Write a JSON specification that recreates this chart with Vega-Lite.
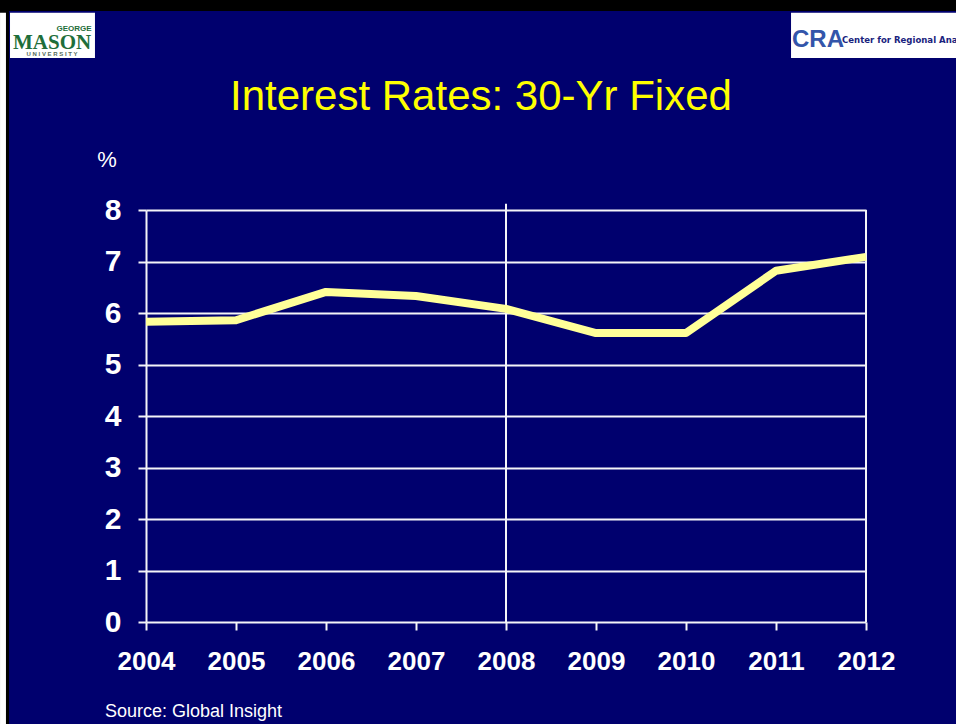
{
  "$schema": "https://vega.github.io/schema/vega-lite/v6.json",
  "width": 720,
  "height": 412,
  "autosize": {"type": "none"},
  "padding": {"left": 146, "top": 210, "right": 90, "bottom": 102},
  "background": "#00006e",
  "config": {"view": {"stroke": null}, "font": "Liberation Sans"},
  "data": {"values": [
    {"year": 2004, "rate": 5.83},
    {"year": 2005, "rate": 5.86},
    {"year": 2006, "rate": 6.41},
    {"year": 2007, "rate": 6.33},
    {"year": 2008, "rate": 6.08},
    {"year": 2009, "rate": 5.61},
    {"year": 2010, "rate": 5.61},
    {"year": 2011, "rate": 6.82},
    {"year": 2012, "rate": 7.09}
  ]},
  "layer": [
    {
      "data": {"values": [{}]},
      "mark": {"type": "rule", "color": "#f4f4f8", "strokeWidth": 2},
      "encoding": {
        "x": {"datum": 2008, "type": "quantitative", "scale": {"domain": [2004, 2012], "nice": false, "zero": false}},
        "y": {"datum": 0, "type": "quantitative"},
        "y2": {"datum": 8.12}
      }
    },
    {
      "data": {"values": [{}]},
      "mark": {"type": "rule", "color": "#f4f4f8", "strokeWidth": 2},
      "encoding": {
        "x": {"datum": 2012, "type": "quantitative"},
        "y": {"datum": 0, "type": "quantitative"},
        "y2": {"datum": 8}
      }
    },
    {
      "mark": {"type": "line", "color": "#ffff99", "strokeWidth": 8, "strokeJoin": "round"},
      "encoding": {
        "x": {
          "field": "year", "type": "quantitative",
          "scale": {"domain": [2004, 2012], "nice": false, "zero": false},
          "axis": {
            "values": [2004, 2005, 2006, 2007, 2008, 2009, 2010, 2011, 2012],
            "format": "d", "title": null, "grid": false, "domain": false,
            "labelFlush": false, "labelOverlap": false,
            "ticks": true, "tickSize": 8, "tickWidth": 2, "tickColor": "#f4f4f8",
            "labelColor": "#ffffff", "labelFont": "Liberation Sans", "labelFontWeight": "bold",
            "labelFontSize": 26, "labelPadding": 18
          }
        },
        "y": {
          "field": "rate", "type": "quantitative",
          "scale": {"domain": [0, 8], "nice": false},
          "axis": {
            "values": [0, 1, 2, 3, 4, 5, 6, 7, 8],
            "title": null, "grid": true, "gridColor": "#f4f4f8", "gridWidth": 2, "gridOpacity": 1,
            "domain": true, "domainColor": "#f4f4f8", "domainWidth": 2,
            "labelFlush": false, "labelOverlap": false,
            "ticks": true, "tickSize": 8, "tickWidth": 2, "tickColor": "#f4f4f8",
            "labelColor": "#ffffff", "labelFont": "Liberation Sans", "labelFontWeight": "bold",
            "labelFontSize": 30, "labelPadding": 17
          }
        }
      }
    },
    {
      "data": {"values": [{}]},
      "mark": {"type": "text", "text": "Interest Rates: 30-Yr Fixed", "color": "#ffff00", "fontSize": 42, "font": "Liberation Sans", "align": "center", "baseline": "alphabetic"},
      "encoding": {"x": {"datum": 2007.722, "type": "quantitative"}, "y": {"datum": 9.942, "type": "quantitative"}}
    },
    {
      "data": {"values": [{}]},
      "mark": {"type": "text", "text": "%", "color": "#ffffff", "fontSize": 22, "font": "Liberation Sans", "align": "center", "baseline": "alphabetic"},
      "encoding": {"x": {"datum": 2003.567, "type": "quantitative"}, "y": {"datum": 8.835, "type": "quantitative"}}
    },
    {
      "data": {"values": [{}]},
      "mark": {"type": "text", "text": "Source: Global Insight", "color": "#ffffff", "fontSize": 18, "font": "Liberation Sans", "align": "left", "baseline": "alphabetic"},
      "encoding": {"x": {"datum": 2003.544, "type": "quantitative"}, "y": {"datum": -1.845, "type": "quantitative"}}
    },
    {
      "data": {"values": [{}]},
      "mark": {"type": "rect", "color": "#000000"},
      "encoding": {"x": {"datum": 2002.378, "type": "quantitative"}, "x2": {"datum": 2013.1}, "y": {"datum": 11.864, "type": "quantitative"}, "y2": {"datum": 12.1}}
    },
    {
      "data": {"values": [{}]},
      "mark": {"type": "rect", "color": "#000000"},
      "encoding": {"x": {"datum": 2002.378, "type": "quantitative"}, "x2": {"datum": 2002.478}, "y": {"datum": -2.0, "type": "quantitative"}, "y2": {"datum": 12.1}}
    },
    {
      "data": {"values": [{}]},
      "mark": {"type": "rect", "color": "#ffffff"},
      "encoding": {"x": {"datum": 2002.378, "type": "quantitative"}, "x2": {"datum": 2002.444}, "y": {"datum": -2.0, "type": "quantitative"}, "y2": {"datum": 11.83}}
    },
    {
      "data": {"values": [{}]},
      "mark": {"type": "rect", "color": "#ffffff"},
      "encoding": {"x": {"datum": 2002.489, "type": "quantitative"}, "x2": {"datum": 2003.433}, "y": {"datum": 10.951, "type": "quantitative"}, "y2": {"datum": 11.83}}
    },
    {
      "data": {"values": [{}]},
      "mark": {"type": "rect", "color": "#ffffff"},
      "encoding": {"x": {"datum": 2011.167, "type": "quantitative"}, "x2": {"datum": 2013.1}, "y": {"datum": 10.951, "type": "quantitative"}, "y2": {"datum": 11.83}}
    },
    {
      "data": {"values": [{}]},
      "mark": {"type": "text", "text": "MASON", "color": "#1e6e3a", "fontSize": 21, "font": "Liberation Serif", "fontWeight": "bold", "align": "center", "baseline": "alphabetic"},
      "encoding": {"x": {"datum": 2002.956, "type": "quantitative"}, "y": {"datum": 11.126, "type": "quantitative"}}
    },
    {
      "data": {"values": [{}]},
      "mark": {"type": "text", "text": "GEORGE", "color": "#1e6e3a", "fontSize": 8, "font": "Liberation Sans", "fontWeight": "bold", "align": "center", "baseline": "alphabetic"},
      "encoding": {"x": {"datum": 2003.2, "type": "quantitative"}, "y": {"datum": 11.48, "type": "quantitative"}}
    },
    {
      "data": {"values": [{}]},
      "mark": {"type": "text", "text": "U N I V E R S I T Y", "color": "#556b5a", "fontSize": 6, "font": "Liberation Sans", "fontWeight": "bold", "align": "center", "baseline": "alphabetic"},
      "encoding": {"x": {"datum": 2002.956, "type": "quantitative"}, "y": {"datum": 10.99, "type": "quantitative"}}
    },
    {
      "data": {"values": [{}]},
      "mark": {"type": "text", "text": "CRA", "color": "#3355aa", "fontSize": 24, "font": "Liberation Sans", "fontWeight": "bold", "align": "center", "baseline": "alphabetic"},
      "encoding": {"x": {"datum": 2011.467, "type": "quantitative"}, "y": {"datum": 11.166, "type": "quantitative"}}
    },
    {
      "data": {"values": [{}]},
      "mark": {"type": "text", "text": "Center for Regional Analy", "color": "#1a237e", "fontSize": 9.5, "font": "DejaVu Sans Condensed, Liberation Sans Narrow, sans-serif", "fontWeight": "bold", "align": "left", "baseline": "alphabetic"},
      "encoding": {"x": {"datum": 2011.733, "type": "quantitative"}, "y": {"datum": 11.243, "type": "quantitative"}}
    }
  ]
}
